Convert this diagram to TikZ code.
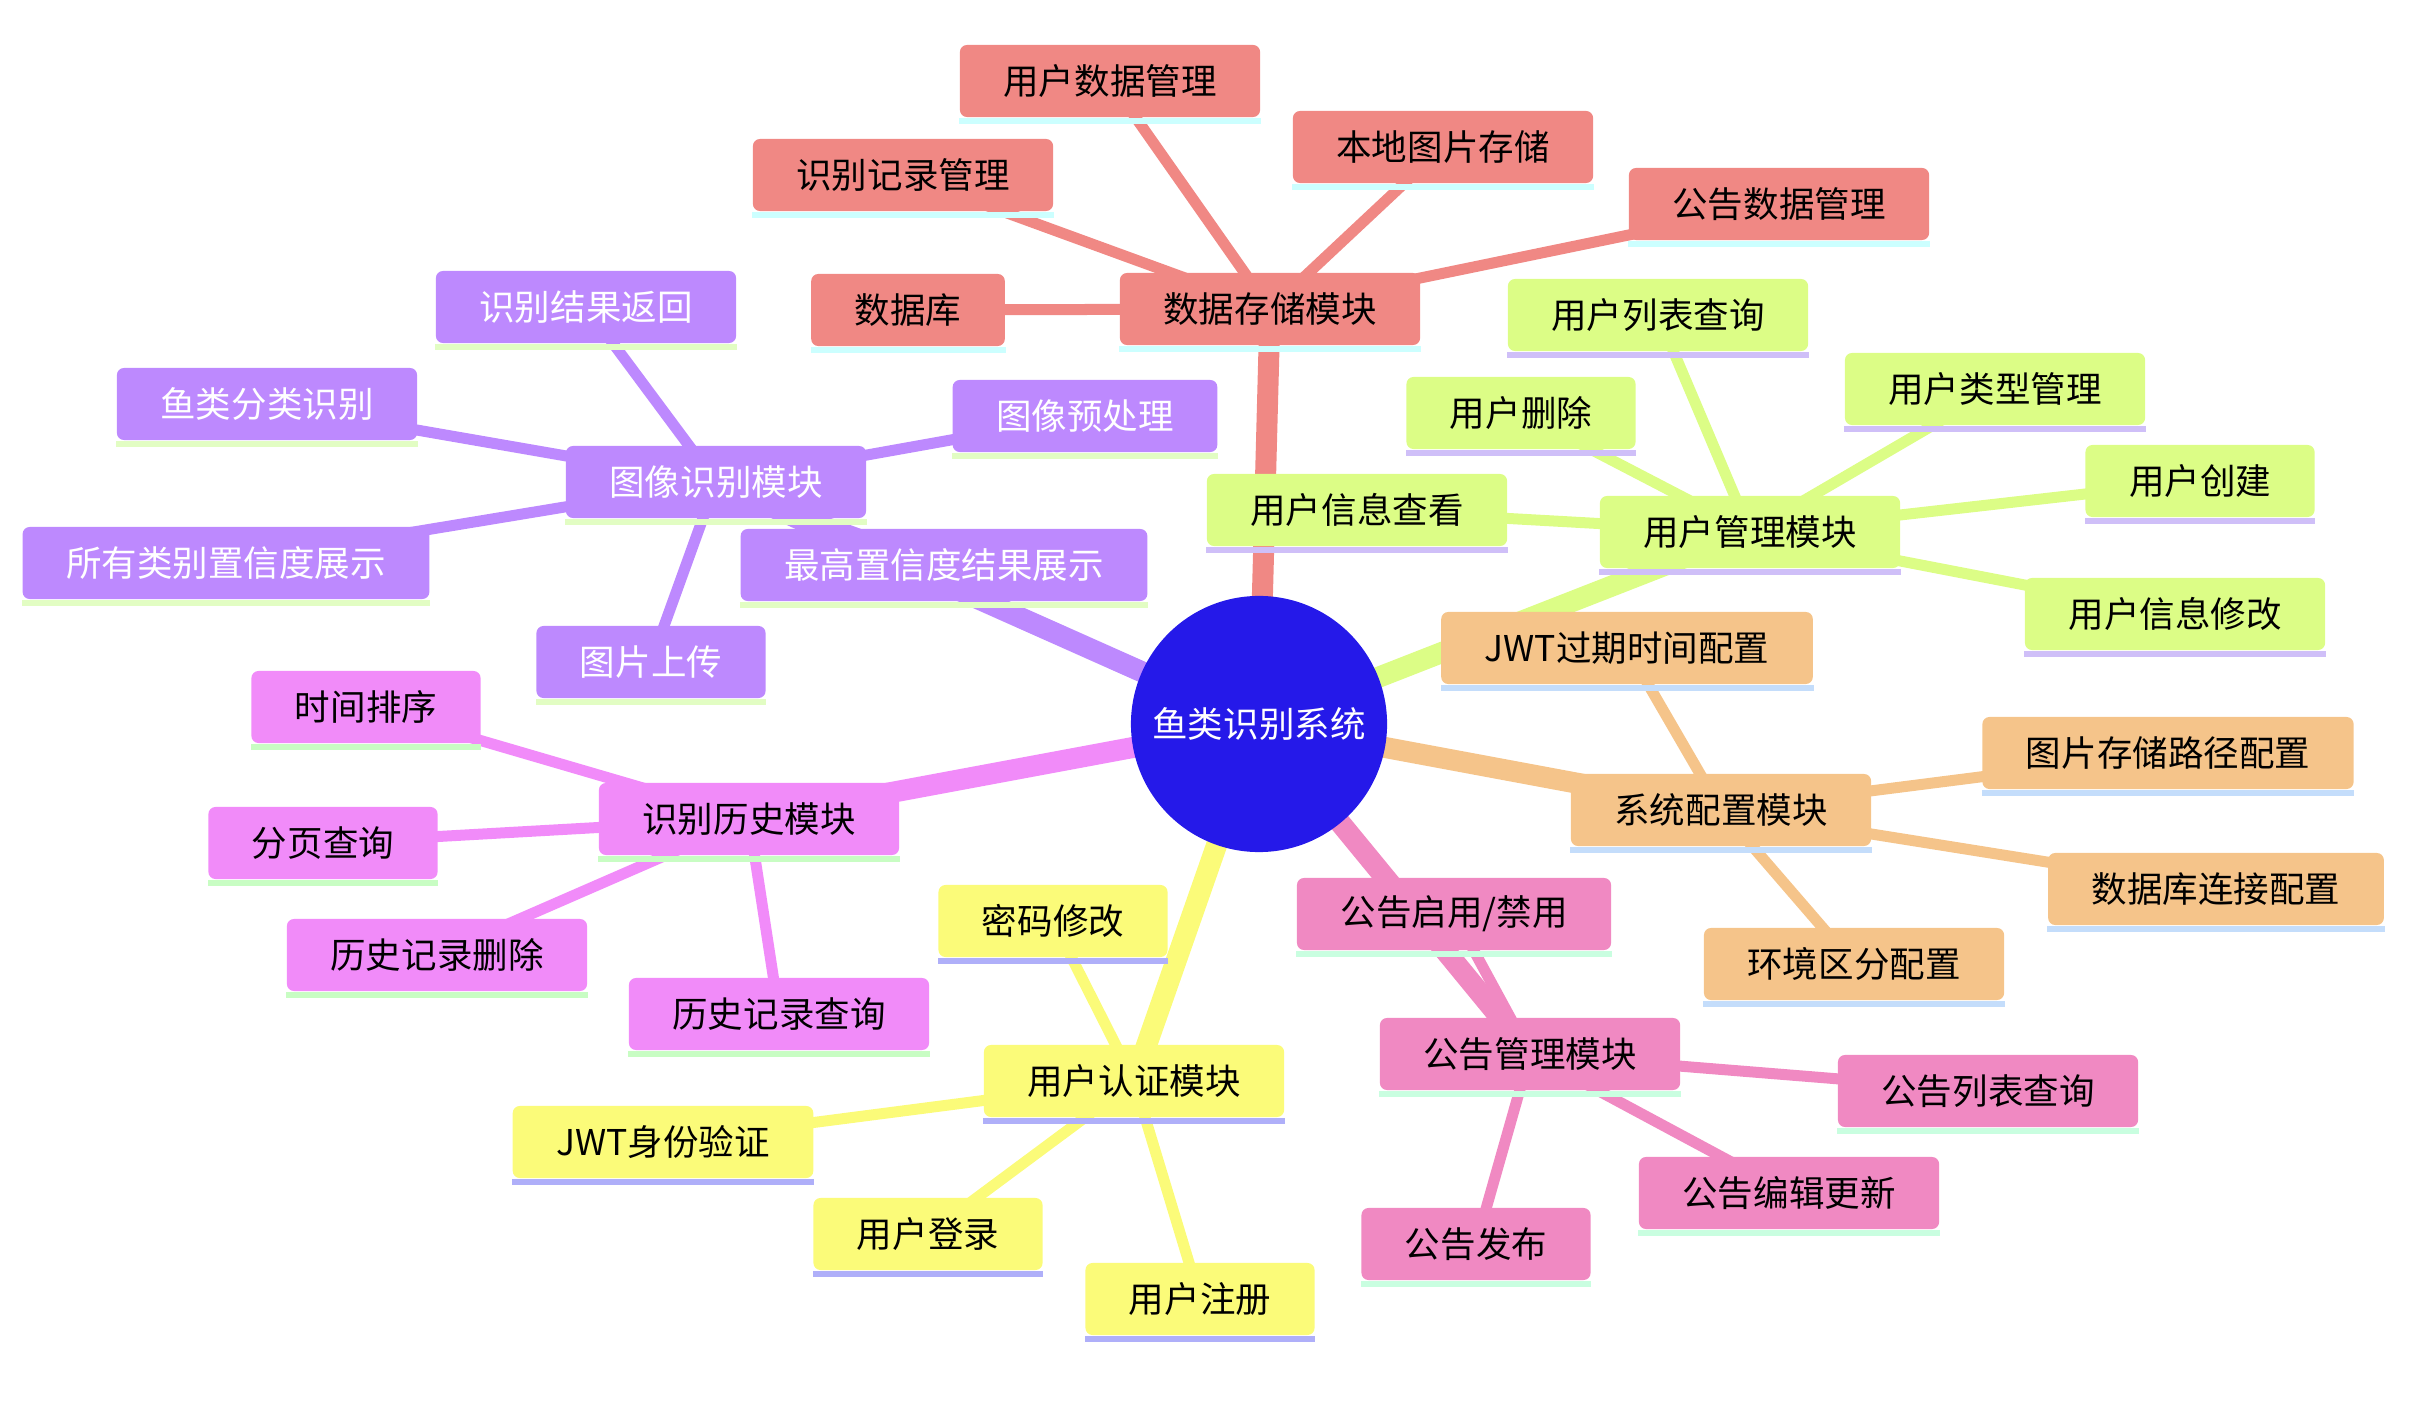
\documentclass[tikz,border=0pt]{standalone}
\usepackage{fontspec}
\setmainfont{Noto Sans CJK SC}
\usetikzlibrary{backgrounds}

% section colours (fill / underline)
\definecolor{cRoot}{HTML}{2519E9}
\definecolor{cRed}{HTML}{F08884}
\definecolor{uRed}{HTML}{CCFFFF}
\definecolor{cLime}{HTML}{DCFD86}
\definecolor{uLime}{HTML}{CFBFF8}
\definecolor{cOrange}{HTML}{F5C48A}
\definecolor{uOrange}{HTML}{C4DDFB}
\definecolor{cPink}{HTML}{F089C2}
\definecolor{uPink}{HTML}{C9FEE0}
\definecolor{cYellow}{HTML}{FBFB79}
\definecolor{uYellow}{HTML}{AFAFF9}
\definecolor{cMagenta}{HTML}{F18BF9}
\definecolor{uMagenta}{HTML}{C8FDC3}
\definecolor{cPurple}{HTML}{BD89FE}
\definecolor{uPurple}{HTML}{E2FDC3}

\tikzset{
  box/.style={rounded corners=0.07cm, inner xsep=0.435cm, inner ysep=0pt,
    minimum height=0.72cm, font=\fontsize{10.1pt}{12pt}\selectfont},
  trunk/.style={line width=0.21cm},
  twig/.style={line width=0.11cm}
}

\begin{document}
\begin{tikzpicture}[x=0.01cm,y=-0.01cm]

\useasboundingbox (0,0) rectangle (2422,1404);

% Root
\node[circle, fill=cRoot, minimum size=2.56cm, inner sep=0pt, text=white,
  font=\fontsize{10.1pt}{12pt}\selectfont] (root) at (1259,724) {鱼类识别系统};

% Data storage
\foreach \n/\t/\x/\y in {dsm/数据存储模块/1270/309, udm/用户数据管理/1110/81,
  rrm/识别记录管理/903/175, lis/本地图片存储/1443/147,
  adm/公告数据管理/1779/204, db/数据库/908/310}
{
  \node[box, fill=cRed] (\n) at (\x,\y) {\t};
  \fill[uRed] (\n.south west) rectangle ([yshift=-0.06cm]\n.south east);
}

% User management
\foreach \n/\t/\x/\y in {umm/用户管理模块/1750/532, ulq/用户列表查询/1658/315,
  udel/用户删除/1521/413, utm/用户类型管理/1995/389,
  ucr/用户创建/2200/481, uiv/用户信息查看/1357/510,
  uim/用户信息修改/2175/614}
{
  \node[box, fill=cLime] (\n) at (\x,\y) {\t};
  \fill[uLime] (\n.south west) rectangle ([yshift=-0.06cm]\n.south east);
}

% System config
\foreach \n/\t/\x/\y in {scm/系统配置模块/1721/810, jwtc/JWT过期时间配置/1627/648,
  ipc/图片存储路径配置/2168/753, dbc/数据库连接配置/2216/889,
  env/环境区分配置/1854/964}
{
  \node[box, fill=cOrange] (\n) at (\x,\y) {\t};
  \fill[uOrange] (\n.south west) rectangle ([yshift=-0.06cm]\n.south east);
}

% Announcements
\foreach \n/\t/\x/\y in {amm/公告管理模块/1530/1054, aen/{公告启用/禁用}/1454/914,
  alq/公告列表查询/1988/1091, aed/公告编辑更新/1789/1193,
  apb/公告发布/1476/1244}
{
  \node[box, fill=cPink] (\n) at (\x,\y) {\t};
  \fill[uPink] (\n.south west) rectangle ([yshift=-0.06cm]\n.south east);
}

% Authentication
\foreach \n/\t/\x/\y in {uam/用户认证模块/1134/1081, pwd/密码修改/1053/921,
  jwtv/JWT身份验证/663/1142, ulg/用户登录/928/1234,
  urg/用户注册/1200/1299}
{
  \node[box, fill=cYellow] (\n) at (\x,\y) {\t};
  \fill[uYellow] (\n.south west) rectangle ([yshift=-0.06cm]\n.south east);
}

% History
\foreach \n/\t/\x/\y in {rhm/识别历史模块/749/819, tso/时间排序/366/707,
  pgq/分页查询/323/843, hdel/历史记录删除/437/955,
  hq/历史记录查询/779/1014}
{
  \node[box, fill=cMagenta] (\n) at (\x,\y) {\t};
  \fill[uMagenta] (\n.south west) rectangle ([yshift=-0.06cm]\n.south east);
}

% Image recognition
\foreach \n/\t/\x/\y in {irm/图像识别模块/716/482, rrr/识别结果返回/586/307,
  fcr/鱼类分类识别/267/404, ipp/图像预处理/1085/416,
  acd/所有类别置信度展示/226/563, hcd/最高置信度结果展示/944/565,
  upl/图片上传/651/662}
{
  \node[box, fill=cPurple, text=white] (\n) at (\x,\y) {\t};
  \fill[uPurple] (\n.south west) rectangle ([yshift=-0.06cm]\n.south east);
}

% Connectors
\begin{scope}[on background layer]
\foreach \m/\c in {dsm/cRed, umm/cLime, scm/cOrange, amm/cPink,
  uam/cYellow, rhm/cMagenta, irm/cPurple}
  \draw[trunk, \c] (root.center) -- (\m.center);

\foreach \m/\l/\c in {dsm/udm/cRed, dsm/rrm/cRed, dsm/lis/cRed, dsm/adm/cRed, dsm/db/cRed,
  umm/ulq/cLime, umm/udel/cLime, umm/utm/cLime, umm/ucr/cLime, umm/uiv/cLime, umm/uim/cLime,
  scm/jwtc/cOrange, scm/ipc/cOrange, scm/dbc/cOrange, scm/env/cOrange,
  amm/aen/cPink, amm/alq/cPink, amm/aed/cPink, amm/apb/cPink,
  uam/pwd/cYellow, uam/jwtv/cYellow, uam/ulg/cYellow, uam/urg/cYellow,
  rhm/tso/cMagenta, rhm/pgq/cMagenta, rhm/hdel/cMagenta, rhm/hq/cMagenta,
  irm/rrr/cPurple, irm/fcr/cPurple, irm/ipp/cPurple, irm/acd/cPurple,
  irm/hcd/cPurple, irm/upl/cPurple}
  \draw[twig, \c] (\m.center) -- (\l.center);
\end{scope}

\end{tikzpicture}
\end{document}
